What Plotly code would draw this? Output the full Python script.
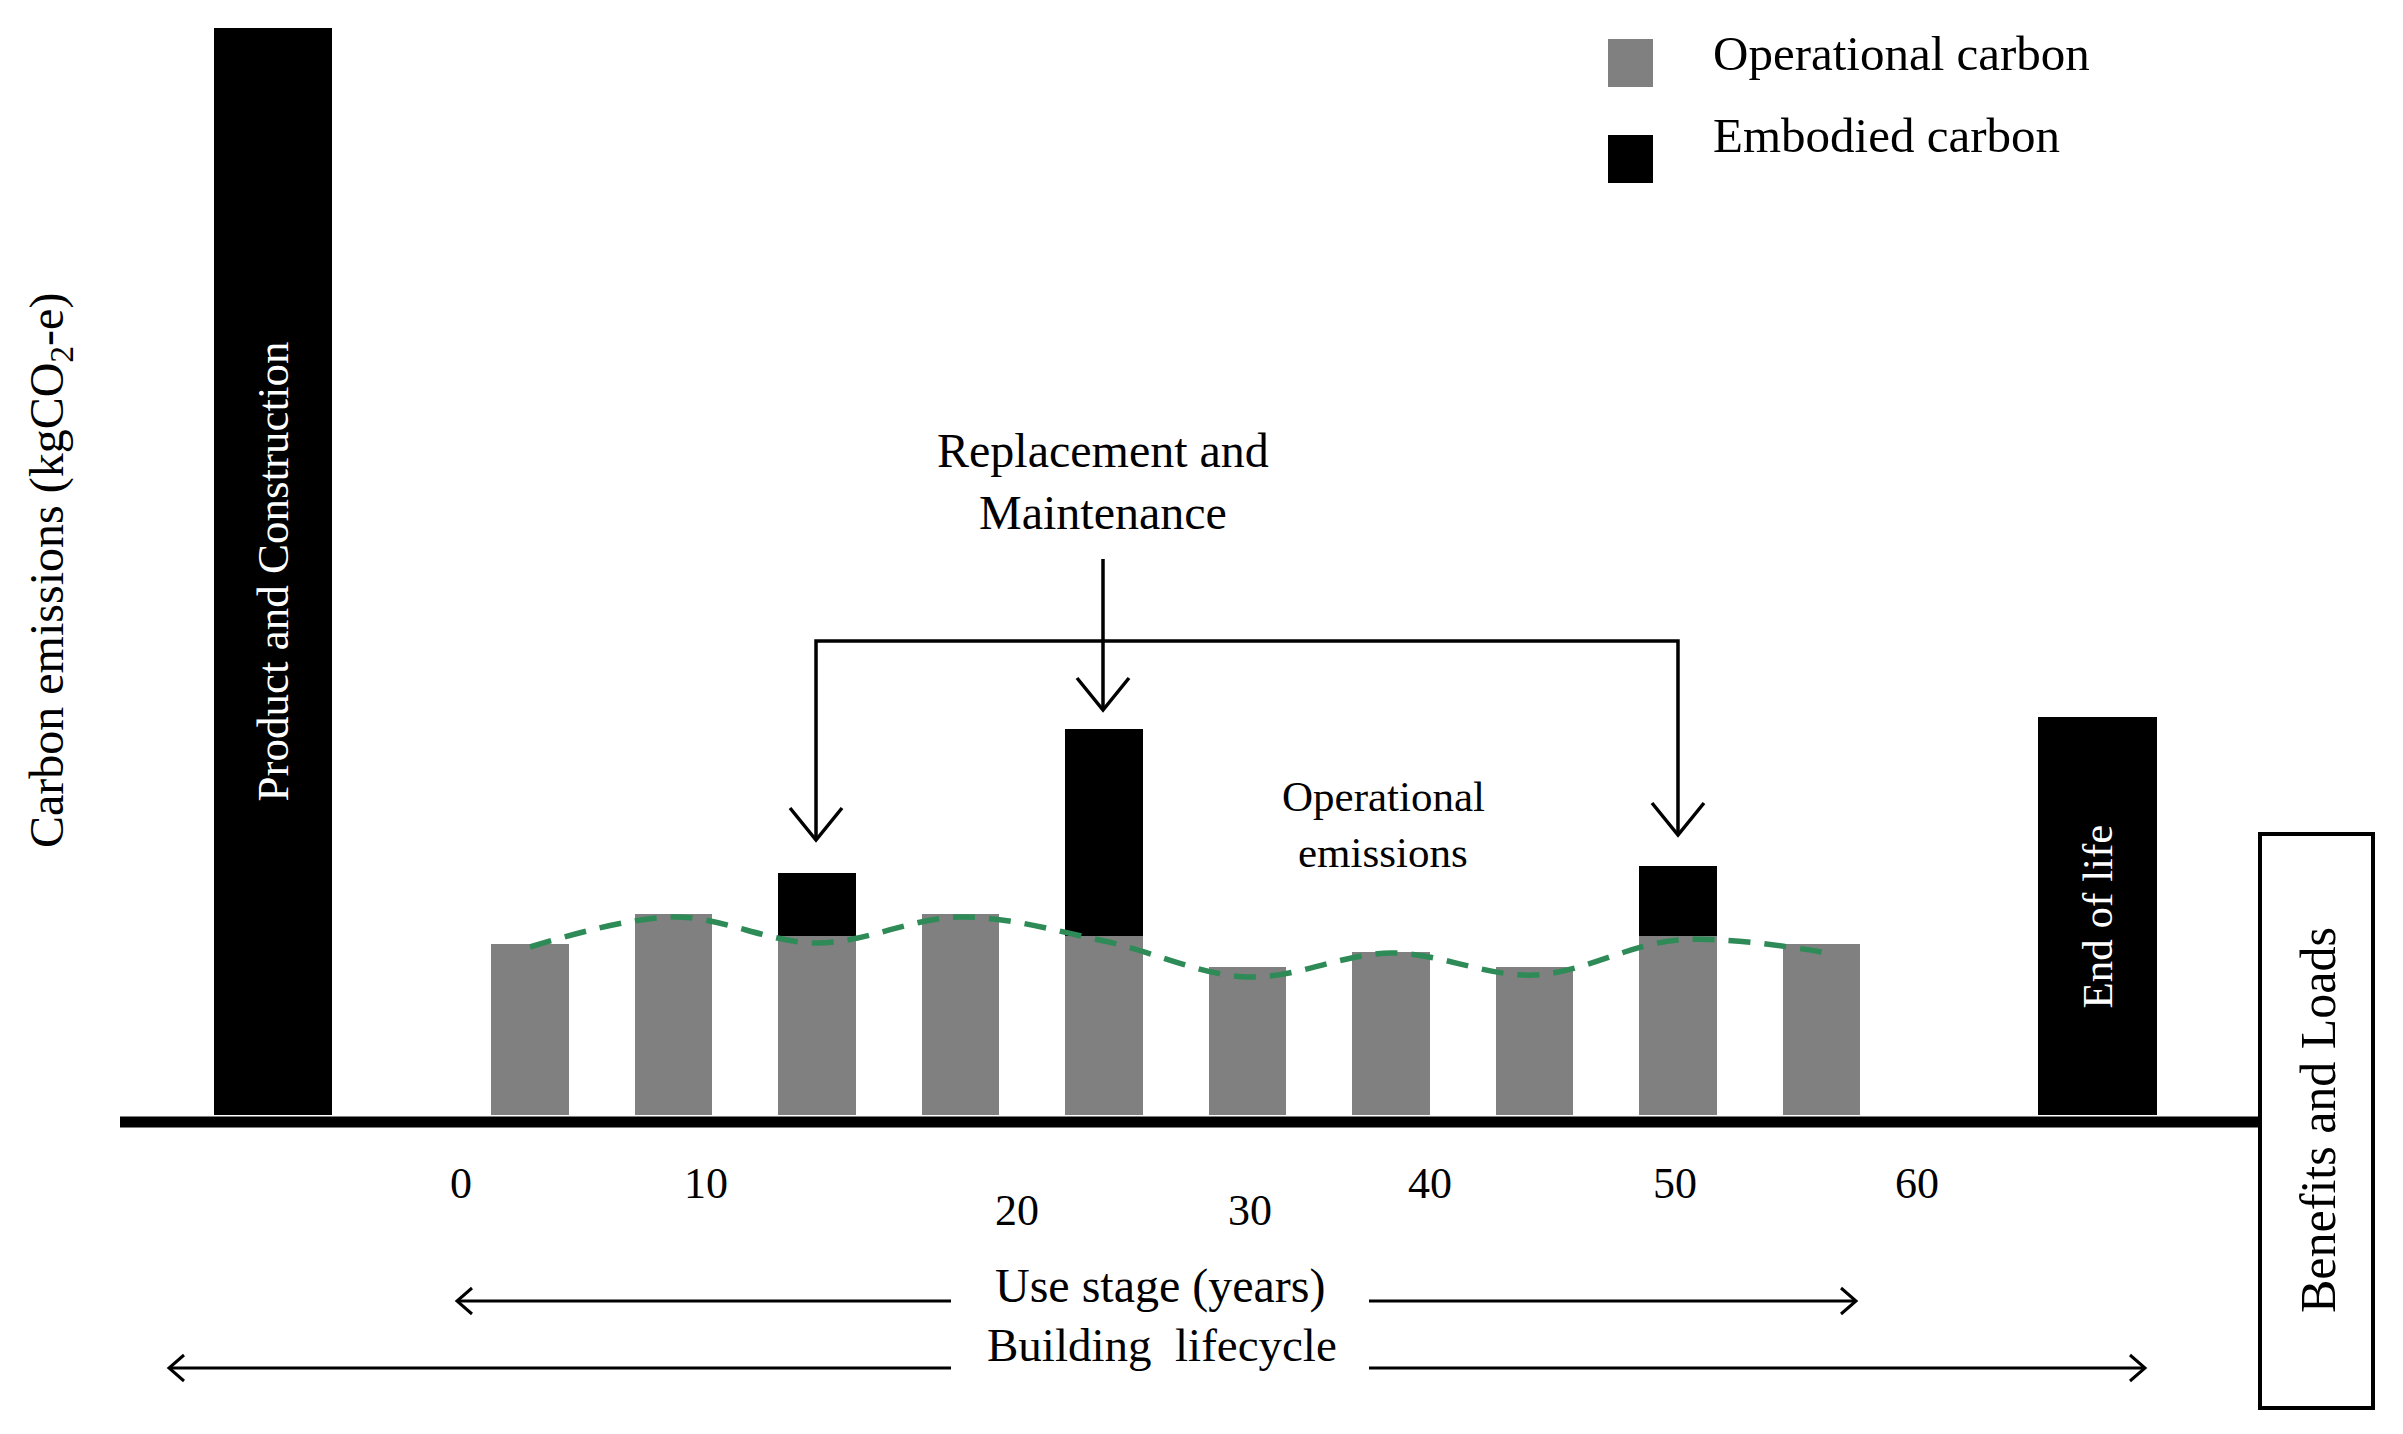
import plotly.graph_objects as go

W, H = 2403, 1434
SERIF = "Liberation Serif, Times New Roman, serif"

# ---------------- data (schematic units) ----------------
use_periods = [1, 2, 3, 4, 5, 6, 7, 8, 9, 10]
operational = [171, 201, 179, 201, 179, 148, 163, 148, 179, 171]
embodied_rm = [0, 0, 63, 0, 207, 0, 0, 0, 70, 0]
trend = [168, 198, 172, 198, 174, 138, 162, 140, 175, 163]
stage_pos = [-0.791, 11.923]
stage_vals = [1087, 398]
stage_labels = ["Product and Construction", "End of life"]
stage_font = [45, 43]
year_labels = ["0", "10", "20", "30", "40", "50", "60"]
year_label_x = [461, 706, 1017, 1250, 1430, 1675, 1917]
year_label_y = [1183, 1183, 1210, 1210, 1183, 1183, 1183]

GRAY = "#808080"
GREEN = "#2e8b57"


def fx(x):
    return x / W


def fy(y):
    return 1 - y / H


def P(x, y):
    return f"{fx(x):.5f},{fy(y):.5f}"


fig = go.Figure()

fig.add_trace(go.Bar(
    x=use_periods, y=operational, width=0.537, marker=dict(color=GRAY, line=dict(width=0)),
    name="Operational carbon", showlegend=False, hoverinfo="skip"))
fig.add_trace(go.Bar(
    x=use_periods, y=embodied_rm, width=0.537, marker=dict(color="black", line=dict(width=0)),
    name="Embodied carbon", showlegend=False, hoverinfo="skip"))
fig.add_trace(go.Bar(
    x=stage_pos, y=stage_vals, width=0.829, marker=dict(color="black", line=dict(width=0)),
    showlegend=False, hoverinfo="skip"))
fig.add_trace(go.Scatter(
    x=use_periods, y=trend, mode="lines",
    line=dict(color=GREEN, width=5.5, dash="22px,14px", shape="spline", smoothing=1.0),
    showlegend=False, hoverinfo="skip"))

shapes = []
# baseline
shapes.append(dict(type="line", xref="paper", yref="paper", x0=fx(120), x1=fx(2258),
                   y0=fy(1122), y1=fy(1122), line=dict(color="black", width=11)))
# Benefits and Loads box
shapes.append(dict(type="rect", xref="paper", yref="paper", x0=fx(2260), x1=fx(2373),
                   y0=fy(834), y1=fy(1408), line=dict(color="black", width=4),
                   fillcolor="rgba(0,0,0,0)"))
# legend squares
shapes.append(dict(type="rect", xref="paper", yref="paper", x0=fx(1608), x1=fx(1653),
                   y0=fy(39), y1=fy(87), line=dict(width=0), fillcolor=GRAY))
shapes.append(dict(type="rect", xref="paper", yref="paper", x0=fx(1608), x1=fx(1653),
                   y0=fy(135), y1=fy(183), line=dict(width=0), fillcolor="black"))


def path(points, width=3.5):
    d = "M" + P(*points[0]) + "".join(" L" + P(*p) for p in points[1:])
    return dict(type="path", xref="paper", yref="paper", path=d,
                line=dict(color="black", width=width), fillcolor="rgba(0,0,0,0)")


def down_head(x, y, hw=26, hl=32):
    return path([(x - hw, y - hl), (x, y), (x + hw, y - hl)])


def side_head(x, y, direction, hl=15, hh=13, width=3):
    return path([(x - direction * hl, y - hh), (x, y), (x - direction * hl, y + hh)], width)


# replacement arrows
shapes.append(path([(1103, 559), (1103, 710)]))
shapes.append(down_head(1103, 710))
shapes.append(path([(816, 840), (816, 641), (1678, 641), (1678, 835)]))
shapes.append(down_head(816, 840))
shapes.append(down_head(1678, 835))
# use stage arrows
shapes.append(path([(457, 1301), (951, 1301)], 3))
shapes.append(path([(1369, 1301), (1856, 1301)], 3))
shapes.append(side_head(457, 1301, -1))
shapes.append(side_head(1856, 1301, 1))
# building lifecycle arrows
shapes.append(path([(169, 1368), (951, 1368)], 3))
shapes.append(path([(1369, 1368), (2145, 1368)], 3))
shapes.append(side_head(169, 1368, -1))
shapes.append(side_head(2145, 1368, 1))

ann = []


def text(x, y, s, size, angle=0, xanchor="center", color="black"):
    ann.append(dict(x=fx(x), y=fy(y), xref="paper", yref="paper", text=s, showarrow=False,
                    xanchor=xanchor, yanchor="middle", textangle=angle,
                    font=dict(family=SERIF, size=size, color=color)))


# labels inside the stage bars, centred on each bar via the data axes
for xp, v, lab, fs in zip(stage_pos, stage_vals, stage_labels, stage_font):
    ann.append(dict(x=xp, y=v / 2, xref="x", yref="y", text=lab, showarrow=False,
                    xanchor="center", yanchor="middle", textangle=-90,
                    font=dict(family=SERIF, size=fs, color="white")))

for lab, x, y in zip(year_labels, year_label_x, year_label_y):
    text(x, y, lab, 44)

text(1160, 1286, "Use stage (years)", 48)
text(1162, 1345, "Building\u00a0 lifecycle", 47)
text(50, 571, "Carbon emissions (kgCO<sub>2</sub>-e)", 48, angle=-90)
text(2318, 1120, "Benefits and Loads", 50, angle=-90)
text(1103, 450, "Replacement and", 48)
text(1103, 512, "Maintenance", 48)
text(1383, 796, "Operational", 43)
text(1383, 852, "emissions", 43)
text(1711, 53, "Operational carbon", 49, xanchor="left")
text(1711, 135, "Embodied carbon", 49, xanchor="left")

fig.update_layout(
    width=W, height=H, margin=dict(l=0, r=0, t=0, b=0),
    paper_bgcolor="white", plot_bgcolor="white",
    barmode="stack", bargap=0,
    xaxis=dict(range=[-2.6934, 14.0523], visible=False, fixedrange=True),
    yaxis=dict(range=[-319, 1115], visible=False, fixedrange=True),
    shapes=shapes, annotations=ann,
)

fig.write_html("out.html", config={"displayModeBar": False},
               post_script="document.body.style.margin='0';")
